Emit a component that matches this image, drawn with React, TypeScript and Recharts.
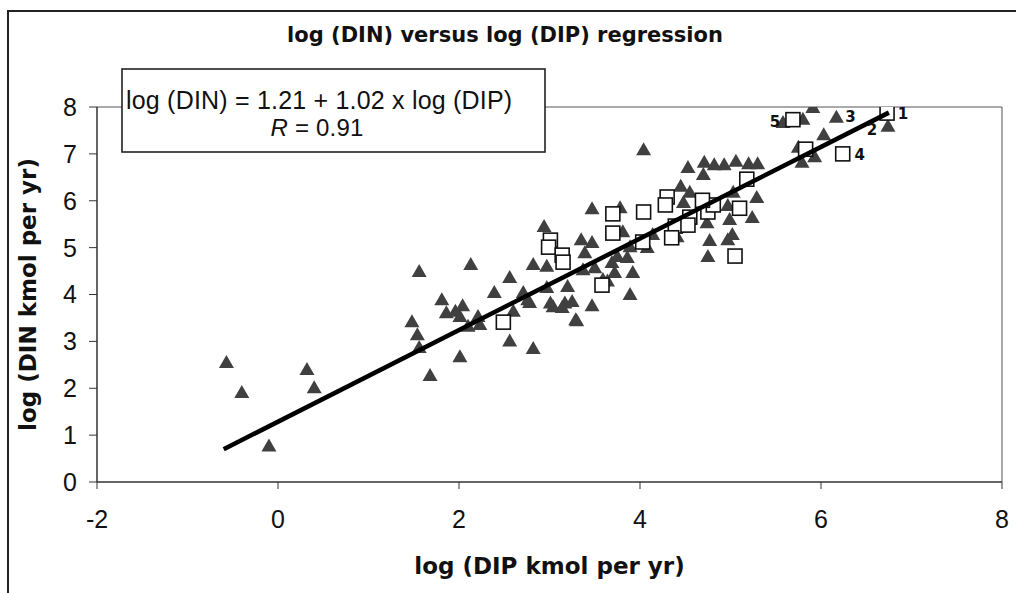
import React from 'react';
import { ScatterChart, Scatter, XAxis, YAxis, ReferenceLine, Label } from 'recharts';

type Pt = [number, number];

// axis ticks
const xTicks = [-2, 0, 2, 4, 6, 8];
const yTicks = [0, 1, 2, 3, 4, 5, 6, 7, 8];

// log(DIP), log(DIN) for the triangle systems
const trianglePts: Pt[] = [
  [-0.57, 2.54], [-0.4, 1.9], [-0.1, 0.76], [0.32, 2.39], [0.4, 2.0],
  [1.56, 4.48], [2.13, 4.63], [2.39, 4.03], [1.81, 3.88], [1.86, 3.6], [1.96, 3.63], [2.04, 3.75],
  [2.01, 3.52], [2.1, 3.31], [2.21, 3.52], [2.23, 3.35], [1.48, 3.41], [1.54, 3.13], [1.56, 2.86],
  [2.01, 2.66], [1.68, 2.26],
  [2.56, 4.35], [2.71, 4.03], [2.78, 3.82], [2.6, 3.63], [2.56, 3.0], [2.82, 2.84], [2.94, 5.44],
  [2.82, 4.63], [2.97, 4.59], [2.97, 4.14], [3.2, 4.16], [3.04, 3.73], [3.25, 3.84], [3.47, 3.75],
  [3.3, 3.43], [2.76, 3.88], [3.14, 3.71], [3.17, 3.81], [3.29, 3.45], [3.01, 3.81],
  [3.35, 5.16], [3.47, 5.1], [3.39, 4.88], [3.5, 4.56], [3.69, 4.67], [3.72, 4.46], [3.92, 4.46],
  [3.59, 4.31], [3.37, 4.52], [3.75, 4.8], [3.86, 4.78], [3.89, 3.99], [3.64, 4.28],
  [3.47, 5.82], [3.78, 5.84], [3.81, 5.33], [3.89, 5.01], [4.14, 5.27], [4.08, 4.99], [4.04, 7.08],
  [4.53, 6.7], [4.71, 6.81], [4.82, 6.76], [4.93, 6.76], [5.06, 6.83], [5.2, 6.78], [5.3, 6.78],
  [4.7, 6.55], [4.45, 6.3], [4.55, 6.17], [4.48, 5.95], [5.03, 6.17], [5.29, 6.06], [4.97, 5.89],
  [5.24, 5.63], [4.99, 5.59], [4.74, 5.52], [4.77, 5.14], [4.97, 5.16], [5.02, 5.27], [4.75, 4.8],
  [4.41, 5.22],
  [5.91, 7.98], [6.17, 7.77], [5.8, 7.73], [5.58, 7.66], [6.74, 7.58], [6.03, 7.4], [5.75, 7.13],
  [5.93, 6.93], [5.79, 6.81],
];

// open squares
const squarePts: Pt[] = [
  [2.49, 3.41], [3.01, 5.16], [2.99, 5.01], [3.14, 4.84], [3.15, 4.69], [3.7, 5.72], [3.7, 5.31],
  [4.04, 5.76], [4.03, 5.12], [3.58, 4.2], [4.3, 6.08], [4.28, 5.91], [4.39, 5.46], [4.35, 5.21],
  [4.55, 5.65], [4.53, 5.48], [4.75, 5.76], [4.81, 5.91], [4.69, 6.01], [5.1, 5.84], [5.18, 6.46],
  [5.05, 4.82], [5.83, 7.1], [6.24, 7.0], [5.69, 7.73], [6.73, 7.87],
];

// regression line ends as drawn
const fitPts: Pt[] = [[-0.6, 0.7], [6.75, 7.88]];

// numbered systems
const numberedX = [6.73, 6.74, 6.17, 6.24, 5.69];
const numberedY = [7.87, 7.58, 7.77, 7.0, 7.73];
const numberedText = ['1', '2', '3', '4', '5'];

const labelOffset: Record<string, [number, number]> = {
  '1': [16, 6], '2': [-16, 8], '3': [14, 4], '4': [17, 6], '5': [-18, 7],
};

const rows = (pts: Pt[]) => pts.map(([x, y]) => ({ x, y }));
const numberedRows = numberedText.map((n, i) => ({ x: numberedX[i], y: numberedY[i], n }));

const sansFont = '"Liberation Sans", Arial, sans-serif';
const boldFont = '"DejaVu Sans", "Liberation Sans", sans-serif';
const tickFont = { fill: '#111', fontSize: 25, fontFamily: sansFont };

const TriangleDot = (p: any) => {
  const { cx, cy } = p;
  return <polygon points={`${cx},${cy - 8} ${cx + 7.5},${cy + 5} ${cx - 7.5},${cy + 5}`} fill="#404040" />;
};

const SquareDot = (p: any) => {
  const { cx, cy } = p;
  return <rect x={cx - 7} y={cy - 7} width={14} height={14} fill="#fff" stroke="#111" strokeWidth={1.6} />;
};

const NumberMark = (p: any) => {
  const n = p.payload?.n ?? p.n;
  const [dx, dy] = labelOffset[n] || [0, 0];
  return (
    <text x={p.cx + dx} y={p.cy + dy} textAnchor="middle" fontSize={15} fontWeight="bold" fontFamily={boldFont} fill="#111">
      {n}
    </text>
  );
};

export default function App() {
  return (
    <div style={{ position: 'absolute', left: 0, top: 0, width: 1016, height: 593, overflow: 'hidden', background: '#fff' }}>
      <div style={{ position: 'absolute', left: 7, top: 10, width: 1100, height: 700, borderLeft: '2px solid #222', borderTop: '2px solid #222' }} />
      <div style={{ position: 'absolute', left: 0, top: 0 }}>
        <ScatterChart width={1016} height={593} margin={{ top: 107, right: 14, bottom: 11, left: 17 }}>
          <XAxis
            type="number"
            dataKey="x"
            domain={[-2, 8]}
            ticks={xTicks}
            height={100}
            tick={tickFont}
            tickSize={7}
            tickMargin={21}
            axisLine={{ stroke: '#333', strokeWidth: 1.5 }}
            tickLine={{ stroke: '#333' }}
            allowDataOverflow
          >
            <Label
              content={(props: any) => {
                const vb = props.viewBox;
                return (
                  <text x={vb.x + vb.width / 2} y={vb.y + vb.height - 8} textAnchor="middle" fontSize={23} fontWeight="bold" fontFamily={boldFont} fill="#111">
                    log (DIP kmol per yr)
                  </text>
                );
              }}
            />
          </XAxis>
          <YAxis
            type="number"
            dataKey="y"
            domain={[0, 8]}
            ticks={yTicks}
            width={80}
            tick={tickFont}
            tickSize={8}
            tickMargin={12}
            axisLine={{ stroke: '#333', strokeWidth: 1.5 }}
            tickLine={{ stroke: '#333' }}
            allowDataOverflow
          >
            <Label
              content={(props: any) => {
                const vb = props.viewBox;
                const x = vb.x + 11;
                const y = vb.y + vb.height / 2;
                return (
                  <text x={x} y={y} transform={`rotate(-90, ${x}, ${y})`} textAnchor="middle" dominantBaseline="central" fontSize={23} fontWeight="bold" fontFamily={boldFont} fill="#111">
                    log (DIN kmol per yr)
                  </text>
                );
              }}
            />
          </YAxis>
          <ReferenceLine y={8} stroke="#555" strokeWidth={1} />
          <ReferenceLine x={8} stroke="#555" strokeWidth={1} />
          <Scatter data={rows(trianglePts)} shape={TriangleDot} isAnimationActive={false} />
          <Scatter data={rows(squarePts)} shape={SquareDot} isAnimationActive={false} />
          <Scatter
            data={rows(fitPts)}
            line={{ stroke: '#000', strokeWidth: 4.5 }}
            shape={() => <g />}
            isAnimationActive={false}
          />
          <Scatter data={numberedRows} shape={NumberMark} isAnimationActive={false} />
        </ScatterChart>
      </div>
      <svg width={1016} height={593} style={{ position: 'absolute', left: 0, top: 0, pointerEvents: 'none' }}>
        <text x={505} y={42} textAnchor="middle" fontSize={21} fontWeight="bold" fontFamily={boldFont} fill="#111">
          log (DIN) versus log (DIP) regression
        </text>
        <rect x={122} y={69} width={423} height={83} fill="#fff" stroke="#222" strokeWidth={1.6} />
        <text x={126} y={109} fontSize={25} letterSpacing={0.2} fontFamily={sansFont} fill="#111">
          log (DIN) = 1.21 + 1.02 x log (DIP)
        </text>
        <text x={317} y={136} textAnchor="middle" fontSize={24} letterSpacing={0.2} fontFamily={sansFont} fill="#111">
          <tspan fontStyle="italic">R</tspan> = 0.91
        </text>
      </svg>
    </div>
  );
}
